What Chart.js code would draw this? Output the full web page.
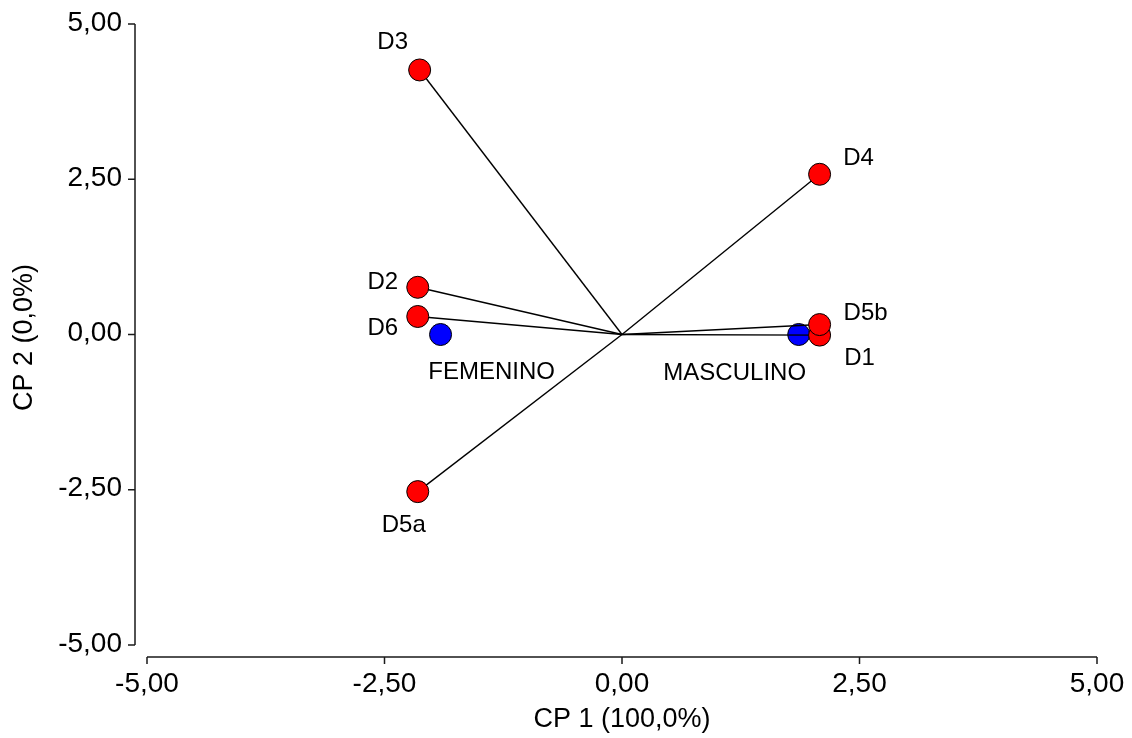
<!DOCTYPE html>
<html>
<head>
<meta charset="utf-8">
<title>CP 1 vs CP 2</title>
<script src="https://cdn.jsdelivr.net/npm/chart.js@4.4.1/dist/chart.umd.min.js"></script>
<style>
  body { margin: 0; background: #fff; }
  canvas { display: block; }
</style>
</head>
<body>
<canvas id="biplot" width="1132" height="738"></canvas>
<script>
// red points (variables) and blue points (groups)
const varNames = ['D3', 'D4', 'D2', 'D6', 'D5a', 'D1', 'D5b'];
const varX = [-2.13, 2.08, -2.15, -2.15, -2.15, 2.08, 2.08];
const varY = [4.26, 2.58, 0.76, 0.29, -2.53, -0.01, 0.16];

const groupNames = ['FEMENINO', 'MASCULINO'];
const groupX = [-1.91, 1.86];
const groupY = [0.0, 0.0];

const tickValues = [-5, -2.5, 0, 2.5, 5];
const xTitle = 'CP 1 (100,0%)';
const yTitle = 'CP 2 (0,0%)';

// label offsets in pixels (style only)
const varLabelOffsets = [[-27, -28], [39, -16], [-35, -5], [-35, 12], [-14, 34], [40, 23], [46, -11]];
const groupLabelOffsets = [[51, 38], [-64, 39]];

const fmt = v => v.toFixed(2).replace('.', ',');

const redPoints = varX.map((x, i) => ({ x: x, y: varY[i] }));
const bluePoints = groupX.map((x, i) => ({ x: x, y: groupY[i] }));

// one line from the origin to each variable
const vectorSets = redPoints.map(p => ({
  type: 'line',
  data: [{ x: 0, y: 0 }, p],
  borderColor: '#000',
  borderWidth: 1.4,
  pointRadius: 0,
  fill: false,
  order: 1
}));

const axesAndLabels = {
  id: 'axesAndLabels',
  afterDraw(chart) {
    const ctx = chart.ctx;
    const xs = chart.scales.x, ys = chart.scales.y;
    const area = chart.chartArea;
    ctx.save();
    ctx.strokeStyle = '#1a1a1a';
    ctx.lineWidth = 1.5;
    ctx.fillStyle = '#000';

    // y axis, drawn a bit left of the plot
    const ax = area.left - 12;
    ctx.beginPath();
    ctx.moveTo(ax, ys.getPixelForValue(5));
    ctx.lineTo(ax, ys.getPixelForValue(-5));
    tickValues.forEach(v => {
      const py = ys.getPixelForValue(v);
      ctx.moveTo(ax - 7, py);
      ctx.lineTo(ax, py);
    });
    ctx.stroke();

    // x axis, drawn a bit below the plot
    const ay = area.bottom + 12;
    ctx.beginPath();
    ctx.moveTo(xs.getPixelForValue(-5), ay);
    ctx.lineTo(xs.getPixelForValue(5), ay);
    tickValues.forEach(v => {
      const px = xs.getPixelForValue(v);
      ctx.moveTo(px, ay);
      ctx.lineTo(px, ay + 7);
    });
    ctx.stroke();

    ctx.font = '28px "Liberation Sans", Arial, sans-serif';
    ctx.textBaseline = 'middle';
    ctx.textAlign = 'right';
    tickValues.forEach(v => {
      ctx.fillText(fmt(v), ax - 13, ys.getPixelForValue(v) - 1);
    });
    ctx.textAlign = 'center';
    tickValues.forEach(v => {
      ctx.fillText(fmt(v), xs.getPixelForValue(v), ay + 27);
    });

    ctx.font = '27px "Liberation Sans", Arial, sans-serif';
    ctx.fillText(xTitle, xs.getPixelForValue(0), 720);
    ctx.save();
    ctx.translate(25, ys.getPixelForValue(0) + 3);
    ctx.rotate(-Math.PI / 2);
    ctx.fillText(yTitle, 0, 0);
    ctx.restore();

    // point labels
    ctx.font = '24px "Liberation Sans", Arial, sans-serif';
    varNames.forEach((n, i) => {
      const px = xs.getPixelForValue(varX[i]), py = ys.getPixelForValue(varY[i]);
      ctx.fillText(n, px + varLabelOffsets[i][0], py + varLabelOffsets[i][1]);
    });
    groupNames.forEach((n, i) => {
      const px = xs.getPixelForValue(groupX[i]), py = ys.getPixelForValue(groupY[i]);
      ctx.fillText(n, px + groupLabelOffsets[i][0], py + groupLabelOffsets[i][1]);
    });
    ctx.restore();
  }
};

new Chart(document.getElementById('biplot'), {
  type: 'scatter',
  data: {
    datasets: [
      {
        label: 'Variables',
        data: redPoints,
        backgroundColor: '#ff0000',
        borderColor: '#000',
        borderWidth: 1,
        pointRadius: 11,
        order: 0
      },
      ...vectorSets,
      {
        label: 'Grupos',
        data: bluePoints,
        backgroundColor: '#0000ff',
        borderColor: '#000',
        borderWidth: 1,
        pointRadius: 11,
        order: 2
      }
    ]
  },
  options: {
    responsive: false,
    animation: false,
    layout: { padding: { left: 147, right: 35, top: 24, bottom: 93 } },
    scales: {
      x: { type: 'linear', min: -5, max: 5, display: false },
      y: { type: 'linear', min: -5, max: 5, display: false }
    },
    plugins: {
      legend: { display: false },
      tooltip: { enabled: false }
    }
  },
  plugins: [axesAndLabels]
});
</script>
</body>
</html>
